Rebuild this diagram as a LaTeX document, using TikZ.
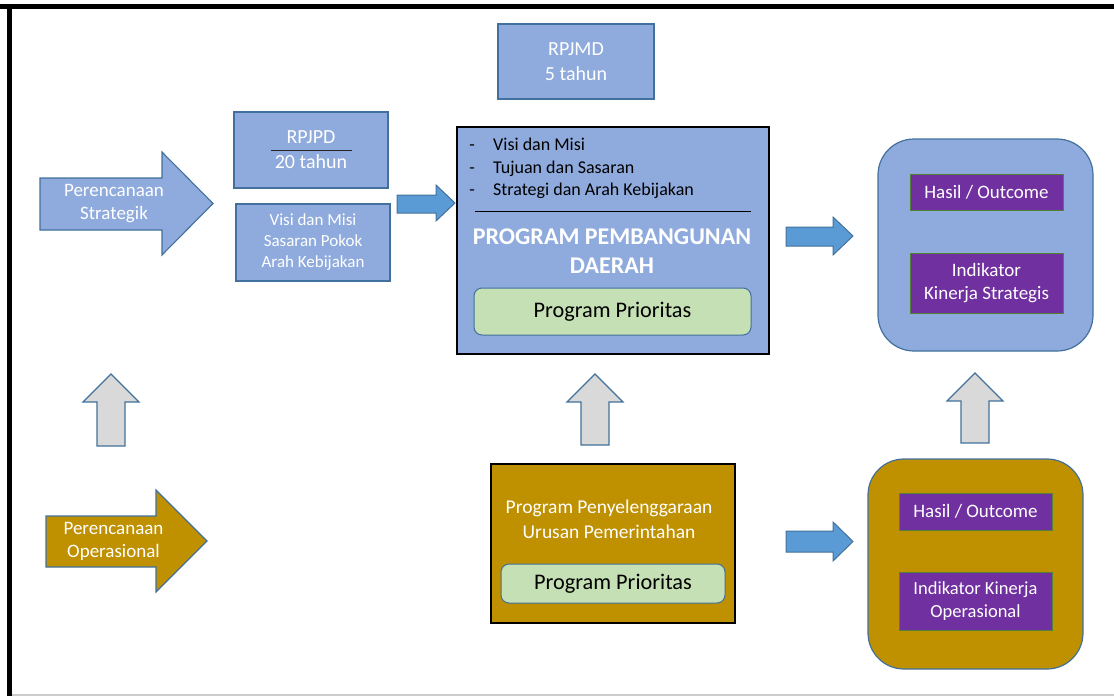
\documentclass[tikz,border=0pt]{standalone}
\usepackage{fontspec}
\setmainfont{Carlito}
\definecolor{lblue}{HTML}{8FAADC}
\definecolor{edgeblue}{HTML}{41719C}
\definecolor{mblue}{HTML}{5B9BD5}
\definecolor{goldc}{HTML}{BF9000}
\definecolor{lgray}{HTML}{D9D9D9}
\definecolor{purp}{HTML}{7030A0}
\definecolor{pedge}{HTML}{548235}
\definecolor{lgreen}{HTML}{C5E0B4}
\begin{document}
\begin{tikzpicture}[x=1pt,y=-1pt,
  bigarrow/.style={draw=edgeblue,line width=1.1pt,line join=miter},
  smallarrow/.style={draw=edgeblue,fill=mblue,line width=1pt},
  grayarrow/.style={draw=edgeblue,fill=lgray,line width=1.1pt},
  bluebox/.style={draw=edgeblue,fill=lblue,line width=1.1pt,inner sep=0pt,align=center,text=white},
  blackbox/.style={draw=black,line width=1.4pt,inner sep=0pt},
  roundbox/.style={draw=edgeblue,line width=1.2pt,rounded corners=36pt,inner sep=0pt},
  purpbox/.style={draw=pedge,fill=purp,line width=1pt,inner sep=0pt,align=center,text=white,font=\fontsize{19}{23}\selectfont},
  prio/.style={draw=edgeblue,fill=lgreen,line width=1pt,rounded corners=8pt,inner sep=0pt,font=\fontsize{22.3}{26}\selectfont},
  wtext/.style={text=white,align=center,inner sep=0pt},
  btext/.style={text=black,inner sep=0pt,font=\fontsize{18}{22}\selectfont}
]
\useasboundingbox (0,0) rectangle (1114,696);
% frame
\fill[black] (0,4) rectangle (1114,8.5);
\fill[black] (7,4) rectangle (11.5,696);
\fill[black!20] (11.5,694) rectangle (1114,696);

% Perencanaan Strategik arrow
\draw[bigarrow,fill=lblue] (40,178) -- (162,178) -- (162,152) -- (213,203.5) -- (162,255) -- (162,230) -- (40,230) -- cycle;
\node[wtext,font=\fontsize{19}{23}\selectfont] (ps) at (114,203.5) {Perencanaan\\Strategik};

% RPJPD
\node[bluebox,minimum width=154pt,minimum height=76pt,font=\fontsize{20}{25}\selectfont] (rpjpd) at (311,150) {RPJPD\\20 tahun};
\coordinate (rl) at (271,150);
\coordinate (rr) at (352,150);
\draw[line width=0.9pt,black!85] (rl) -- (rr);

% Visi dan Misi box
\node[bluebox,minimum width=154pt,minimum height=77pt,font=\fontsize{17}{21}\selectfont] (vm) at (313,242.5) {Visi dan Misi\\Sasaran Pokok\\Arah Kebijakan};

% small blue arrow
\draw[smallarrow] (397,195) -- (436,195) -- (436,185) -- (455,203) -- (436,221) -- (436,213) -- (397,213) -- cycle;

% RPJMD
\node[bluebox,minimum width=156pt,minimum height=75pt,font=\fontsize{20}{25}\selectfont] (rpjmd) at (576,61.5) {RPJMD\\5 tahun};

% main box
\node[blackbox,fill=lblue,minimum width=312pt,minimum height=227pt] (main) at (613,240.5) {};
\node[btext,anchor=base] (d1) at (472,150) {-};
\node[btext,anchor=base] (d2) at (472,173) {-};
\node[btext,anchor=base] (d3) at (472,195) {-};
\node[btext,anchor=base west] (b1) at (493,150) {Visi dan Misi};
\node[btext,anchor=base west] (b2) at (493,173) {Tujuan dan Sasaran};
\node[btext,anchor=base west] (b3) at (493,195) {Strategi dan Arah Kebijakan};
\coordinate (sl) at (475,211);
\coordinate (sr) at (751,211);
\draw[line width=0.9pt,black] (sl) -- (sr);
\node[wtext,font=\fontsize{24}{29}\bfseries\selectfont] (ppd) at (612,251.5) {PROGRAM PEMBANGUNAN\\DAERAH};
\node[prio,minimum width=277pt,minimum height=47pt] (pp1) at (612.5,311.5) {Program Prioritas};

% top right arrow
\draw[smallarrow] (786,227) -- (833,227) -- (833,217) -- (853,236) -- (833,255) -- (833,246) -- (786,246) -- cycle;

% right top rounded box
\node[roundbox,fill=lblue,minimum width=215pt,minimum height=212pt] (rt) at (985.5,245) {};
\node[purpbox,minimum width=153pt,minimum height=36pt] (h1) at (986.5,192) {Hasil / Outcome};
\node[purpbox,minimum width=153pt,minimum height=60pt] (i1) at (986.5,283.5) {Indikator\\Kinerja Strategis};

% gray up arrows
\draw[grayarrow] (97,446) -- (97,402) -- (83,402) -- (111,374) -- (139,402) -- (125,402) -- (125,446) -- cycle;
\draw[grayarrow] (581,445) -- (581,402) -- (567,402) -- (595,374) -- (623,402) -- (609,402) -- (609,445) -- cycle;
\draw[grayarrow] (961,443) -- (961,401) -- (947,401) -- (975,373) -- (1003,401) -- (989,401) -- (989,443) -- cycle;

% Perencanaan Operasional arrow
\draw[bigarrow,fill=goldc] (46,516) -- (156,516) -- (156,490) -- (207,541) -- (156,592) -- (156,567) -- (46,567) -- cycle;
\node[wtext,font=\fontsize{19}{23}\selectfont] (po) at (113.5,541.5) {Perencanaan\\Operasional};

% Program Penyelenggaraan box
\node[blackbox,fill=goldc,minimum width=244pt,minimum height=159pt] (ppu) at (613,543.5) {};
\node[wtext,font=\fontsize{19.5}{25}\selectfont] (ppt) at (609,519.5) {Program Penyelenggaraan\\Urusan Pemerintahan};
\node[prio,minimum width=224pt,minimum height=39pt] (pp2) at (613,583.5) {Program Prioritas};

% bottom right arrow
\draw[smallarrow] (786,531) -- (833,531) -- (833,522) -- (853,541.5) -- (833,561) -- (833,552) -- (786,552) -- cycle;

% bottom right rounded box
\node[roundbox,fill=goldc,minimum width=215pt,minimum height=210pt] (rb) at (975.5,564) {};
\node[purpbox,minimum width=153pt,minimum height=37pt] (h2) at (975.5,511.5) {Hasil / Outcome};
\node[purpbox,minimum width=153pt,minimum height=58pt,font=\fontsize{18.5}{23}\selectfont] (i2) at (975.5,601) {Indikator Kinerja\\Operasional};
\end{tikzpicture}
\end{document}
